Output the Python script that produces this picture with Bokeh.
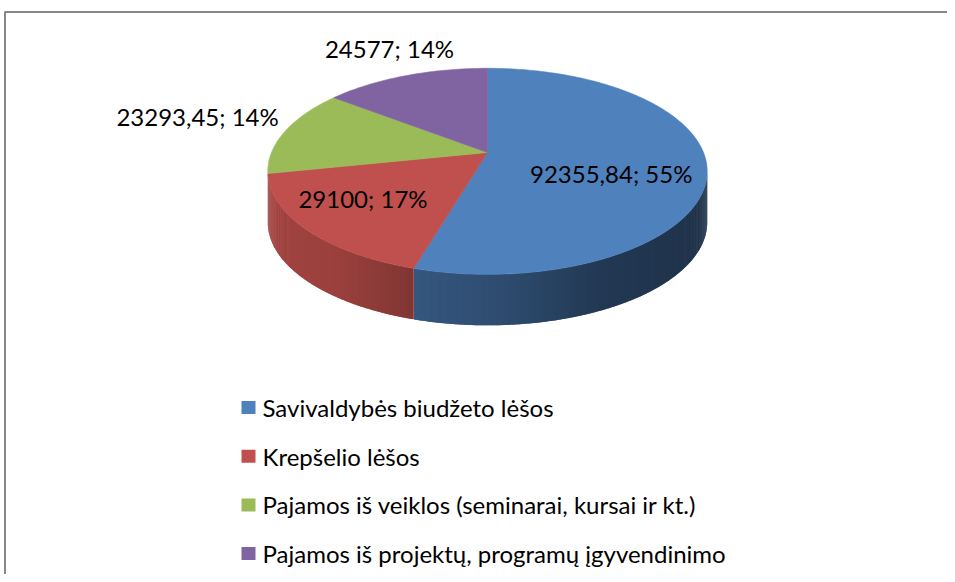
import math
from bokeh.plotting import figure
from bokeh.models import Range1d
from bokeh.core.properties import value
from bokeh.embed import file_html
from bokeh.resources import INLINE

# ---- data ----
categories = [
    "Savivaldybės biudžeto lėšos",
    "Krepšelio lėšos",
    "Pajamos iš veiklos (seminarai, kursai ir kt.)",
    "Pajamos iš projektų, programų įgyvendinimo",
]
values = [92355.84, 29100, 23293.45, 24577]
value_labels = ["92355,84", "29100", "23293,45", "24577"]
percent_labels = ["55%", "17%", "14%", "14%"]
colors = ["#4F81BD", "#C0504D", "#9BBB59", "#8064A2"]

# ---- layout / projection (3D pie, perspective) ----
CX, CY = 487.0, 152.0      # projected pie centre (px)
A = 216.0                  # horizontal radius scale
SIN_E = 0.461              # tilt
K = 0.1827                 # perspective strength
T = 51.0                   # thickness in px
label_r = [0.57, 0.715, 1.46, 1.24]
label_dy = [13, -7, -5, -12]
# side-wall lighting by screen x (x, factor)
light = [(260, 0.85), (340, 0.80), (413, 0.67), (500, 0.59), (600, 0.44), (710, 0.39)]

FONT = "Lato"
FS = "24px"


def proj(phi, r=1.0):
    ph = math.radians(phi)
    d = 1 + K * r * math.cos(ph)
    return (CX + A * r * math.sin(ph) / d,
            CY - A * SIN_E * r * math.cos(ph) / d)


def light_at(x):
    if x <= light[0][0]:
        return light[0][1]
    for (x0, f0), (x1, f1) in zip(light[:-1], light[1:]):
        if x <= x1:
            return f0 + (f1 - f0) * (x - x0) / (x1 - x0)
    return light[-1][1]


def shade(hexcol, f):
    h = hexcol.lstrip("#")
    rgb = [int(h[i:i + 2], 16) for i in (0, 2, 4)]
    return "#%02x%02x%02x" % tuple(max(0, min(255, int(round(c * f)))) for c in rgb)


total = float(sum(values))
starts, ends = [], []
acc = 0.0
for v in values:
    starts.append(acc / total * 360.0)
    acc += v
    ends.append(acc / total * 360.0)

p = figure(width=947, height=574, x_range=Range1d(0, 947), y_range=Range1d(574, 0),
           output_backend="svg", toolbar_location=None, min_border=0)
p.axis.visible = False
p.grid.visible = False
p.outline_line_color = None
p.background_fill_color = "white"
p.border_fill_color = "white"

# chart-area border (cut off at right and bottom)
p.line([4.5, 4.5, 960], [590, 11.5, 11.5], line_color="#878787", line_width=2)

# ---- side walls ----
phi_l = math.degrees(math.acos(-K))          # right silhouette
phi_r = 360.0 - phi_l                        # left silhouette
sx, sy, sc = [], [], []
for i in range(len(values)):
    a0 = max(starts[i], phi_l)
    a1 = min(ends[i], phi_r)
    if a1 <= a0:
        continue
    n = max(2, int((a1 - a0) / 0.5))
    for j in range(n):
        t0 = a0 + (a1 - a0) * j / n
        t1 = a0 + (a1 - a0) * (j + 1) / n
        t1o = min(a1, t1 + 0.4)              # slight overlap to hide seams
        x0, y0 = proj(t0)
        x1, y1 = proj(t1o)
        sx.append([x0, x1, x1, x0])
        sy.append([y0, y1, y1 + T, y0 + T])
        xm, _ = proj(0.5 * (t0 + t1))
        sc.append(shade(colors[i], light_at(xm)))
p.patches(sx, sy, fill_color=sc, line_color=None)

# ---- top faces ----
tx, ty = [], []
for i in range(len(values)):
    n = max(4, int((ends[i] - starts[i]) / 1.0))
    xs, ys = [CX], [CY]
    for j in range(n + 1):
        x, y = proj(starts[i] + (ends[i] - starts[i]) * j / n)
        xs.append(x)
        ys.append(y)
    tx.append(xs)
    ty.append(ys)
p.patches(tx, ty, fill_color=colors, line_color=colors, line_width=0.6)

# ---- data labels ----
lx, ly, lt = [], [], []
for i in range(len(values)):
    mid = 0.5 * (starts[i] + ends[i])
    x, y = proj(mid, label_r[i])
    lx.append(x)
    ly.append(y + label_dy[i])
    lt.append(value_labels[i] + "; " + percent_labels[i])
p.text(x=lx, y=ly, text=lt, text_font=value(FONT), text_font_size=FS,
       text_align="center", text_baseline="middle", text_color="black")

# ---- legend ----
leg_x, leg_y0, leg_dy = 248.0, 407.0, 48.7
ly2 = [leg_y0 + i * leg_dy for i in range(len(categories))]
p.rect(x=[leg_x] * len(categories), y=ly2, width=14, height=13, fill_color=colors,
       line_color=None)
p.text(x=[leg_x + 14] * len(categories), y=ly2, text=categories, text_font=value(FONT),
       text_font_size=FS, text_align="left", text_baseline="middle", text_color="black")

open("out.html", "w").write(file_html(p, INLINE))
